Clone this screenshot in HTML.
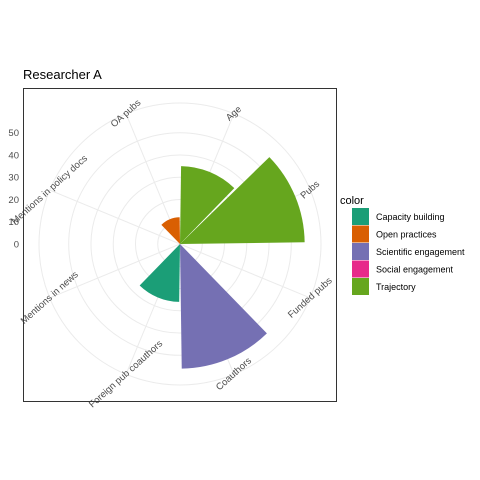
<!DOCTYPE html>
<html><head><meta charset="utf-8"><style>
body{margin:0;background:#fff;}
svg{display:block;font-family:"Liberation Sans",Arial,sans-serif;}
</style></head><body>
<svg id="chart" width="480" height="480" viewBox="0 0 480 480">
<rect x="0" y="0" width="480" height="480" fill="#fff"/>
<text x="23" y="79" font-size="13" fill="#000">Researcher A</text>
<g id="grid"></g>
<g id="bars"></g>
<g id="labels"></g>
<g id="yaxis"></g>
<rect x="23.5" y="88.5" width="313" height="313" fill="none" stroke="#333" stroke-width="1"/>
<g>
<text x="340" y="204" font-size="11" fill="#000">color</text>
<g id="legend"></g>
</g>
</svg>
<script>
const categories = ["Age","Pubs","Funded pubs","Coauthors","Foreign pub coauthors","Mentions in news","Mentions in policy docs","OA pubs"];
const values = [35, 56, 0, 56, 26, 0, 0, 12];
const groups = ["Trajectory","Trajectory","Trajectory","Scientific engagement","Capacity building","Social engagement","Social engagement","Open practices"];
const legendLabels = ["Capacity building","Open practices","Scientific engagement","Social engagement","Trajectory"];
const legendColors = ["#1B9E77","#D95F02","#7570B3","#E7298A","#66A61E"];
const yTicks = [0,10,20,30,40,50];
const gridVals = [10,20,30,40,50];

const NS="http://www.w3.org/2000/svg";
const cx=180, cy=244, k=2.226, outerR=141;
function rScale(v){return v*k;}
function aScale(i){return i*360/categories.length;}
function pt(a,r){const t=a*Math.PI/180;return [cx+r*Math.sin(t), cy-r*Math.cos(t)];}
function mk(tag,attrs,parent){const e=document.createElementNS(NS,tag);for(const a in attrs)e.setAttribute(a,attrs[a]);parent.appendChild(e);return e;}
const colorOf=g=>legendColors[legendLabels.indexOf(g)];

const grid=document.getElementById('grid');
gridVals.forEach(v=>{
  const c=mk('circle',{cx:cx,cy:cy,r:rScale(v),fill:'none',stroke:'#ebebeb','stroke-width':1},grid);
  
  
});
const oc=mk('circle',{cx:cx,cy:cy,r:outerR,fill:'none',stroke:'#ebebeb','stroke-width':1},grid);


categories.forEach((c,i)=>{
  const p=pt(aScale(i)+22.5,outerR);
  const l=mk('line',{x1:cx,y1:cy,x2:p[0],y2:p[1],stroke:'#ebebeb','stroke-width':1},grid);
  
  
});

const bars=document.getElementById('bars');
categories.forEach((c,i)=>{
  const v=values[i]; if(v<=0) return;
  const r=rScale(v), a0=aScale(i)+0.8, a1=aScale(i+1)-0.8;
  const p0=pt(a0,r), p1=pt(a1,r);
  const d=`M${cx},${cy} L${p0[0]},${p0[1]} A${r},${r} 0 0 1 ${p1[0]},${p1[1]} Z`;
  const b=mk('path',{d:d,fill:colorOf(groups[i])},bars);
  
  
});

const labels=document.getElementById('labels');
categories.forEach((c,i)=>{
  const p=pt(aScale(i)+22.5,outerR);
  const t=mk('text',{x:p[0],y:p[1],'font-size':9.5,fill:'#4d4d4d','text-anchor':'middle','dominant-baseline':'middle',transform:`rotate(-42 ${p[0]} ${p[1]})`},labels);
  t.textContent=c;
  
  
});

const yaxis=document.getElementById('yaxis');
yTicks.forEach(v=>{
  const y=cy-rScale(v);
  const t=mk('text',{x:19,y:y+3.5,'font-size':9.5,fill:'#4d4d4d','text-anchor':'end'},yaxis);
  t.textContent=v;
  
  
});

const legend=document.getElementById('legend');
legendLabels.forEach((lab,i)=>{
  const y=208+i*17.5;
  const r=mk('rect',{x:352,y:y,width:17,height:17,fill:legendColors[i]},legend);
  
  
  const t=mk('text',{x:376,y:y+12,'font-size':9,fill:'#000'},legend);
  t.textContent=lab;
  
  
});
</script>
</body></html>
